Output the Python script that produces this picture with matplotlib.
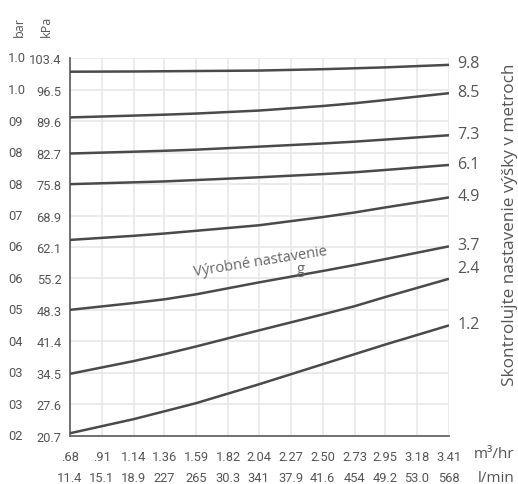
"""Pressure vs flow curves for the height settings."""
import matplotlib
matplotlib.use('Agg')
import matplotlib.pyplot as plt
import matplotlib.transforms as mtransforms

# x axis: flow
flow_m3hr = [0.68, 0.91, 1.14, 1.36, 1.59, 1.82, 2.04, 2.27, 2.50, 2.73, 2.95, 3.18, 3.41]
flow_m3hr_labels = ['.68', '.91', '1.14', '1.36', '1.59', '1.82', '2.04', '2.27',
                    '2.50', '2.73', '2.95', '3.18', '3.41']
flow_lmin_labels = ['11.4', '15.1', '18.9', '227', '265', '30.3', '341', '37.9',
                    '41.6', '454', '49.2', '53.0', '568']

# y axis: pressure
kpa_ticks = [103.4, 96.5, 89.6, 82.7, 75.8, 68.9, 62.1, 55.2, 48.3, 41.4, 34.5, 27.6, 20.7]
kpa_labels = ['103.4', '96.5', '89.6', '82.7', '75.8', '68.9', '62.1', '55.2',
              '48.3', '41.4', '34.5', '27.6', '20.7']
bar_labels = ['1.0', '1.0', '09', '08', '08', '07', '06', '06', '05', '04', '03', '03', '02']

# curves, read at these flows
curve_flow = [0.68, 1.14, 1.36, 1.59, 2.04, 2.50, 2.73, 2.95, 3.41]
curve_names = ['9.8', '8.5', '7.3', '6.1', '4.9', '3.7', '2.4', '1.2']
curve_kpa = [
    [100.4, 100.45, 100.5, 100.55, 100.65, 100.95, 101.15, 101.35, 101.9],
    [90.4, 90.8, 91.0, 91.25, 91.9, 92.9, 93.5, 94.2, 95.7],
    [82.5, 82.9, 83.1, 83.35, 84.0, 84.7, 85.1, 85.55, 86.5],
    [75.8, 76.2, 76.4, 76.7, 77.3, 78.0, 78.4, 78.9, 80.0],
    [63.6, 64.5, 65.0, 65.6, 66.8, 68.6, 69.6, 70.7, 72.9],
    [48.3, 49.8, 50.6, 51.7, 54.3, 56.8, 58.1, 59.4, 62.2],
    [34.3, 37.1, 38.6, 40.3, 43.8, 47.3, 49.1, 51.1, 55.1],
    [21.3, 24.4, 26.1, 27.9, 32.0, 36.4, 38.6, 40.7, 44.9],
]

txt = '#555555'
line_col = '#4a4a4a'
numfont = ['Roboto', 'DejaVu Sans']
opensans = ['Open Sans', 'DejaVu Sans']
numsize = 9.3

fig = plt.figure(figsize=(5.18, 4.85), dpi=100)
ax = fig.add_axes([70 / 518, 1 - 437 / 485, 379 / 518, 378 / 485])

for vals in curve_kpa:
    ax.plot(curve_flow, vals, color=line_col, linewidth=1.8, solid_capstyle='butt',
            solid_joinstyle='round', zorder=3)

ax.set_xlim(flow_m3hr[0], flow_m3hr[-1])
ax.set_ylim(kpa_ticks[-1], kpa_ticks[0])
ax.set_xticks(flow_m3hr)
ax.set_xticklabels(flow_m3hr_labels, fontfamily=numfont, fontsize=numsize, color=txt)
ax.set_yticks(kpa_ticks)
ax.set_yticklabels(kpa_labels, fontfamily=numfont, fontsize=numsize, color=txt)
ax.tick_params(axis='both', length=0)
ax.tick_params(axis='x', pad=10)
ax.tick_params(axis='y', pad=6)
ax.grid(True, color='#e6e6e6', linewidth=1.1, zorder=0)
ax.set_axisbelow(True)
for side in ['top', 'right']:
    ax.spines[side].set_visible(False)
for side in ['left', 'bottom']:
    ax.spines[side].set_color('#666666')
    ax.spines[side].set_linewidth(1.3)

# bar column on the left
trans_bar = mtransforms.blended_transform_factory(fig.transFigure, ax.transData)
for v, lab in zip(kpa_ticks, bar_labels):
    ax.text(8 / 518, v, lab, transform=trans_bar, ha='left', va='center',
            fontfamily=numfont, fontsize=numsize, color=txt, clip_on=False)

fig.text(19 / 518, 1 - 37 / 485, 'bar', rotation=90, ha='center', va='bottom',
         fontfamily=opensans, fontsize=9, color=txt)
fig.text(46 / 518, 1 - 37 / 485, 'kPa', rotation=90, ha='center', va='bottom',
         fontfamily=opensans, fontsize=9, color=txt)

# second row of x labels (l/min)
trans_row = mtransforms.blended_transform_factory(ax.transData, fig.transFigure)
for x, lab in zip(flow_m3hr, flow_lmin_labels):
    ax.text(x, 1 - 479 / 485, lab, transform=trans_row, ha='center', va='center',
            fontfamily=numfont, fontsize=numsize, color=txt, clip_on=False)

fig.text(474 / 518, 1 - 455 / 485, 'm³/hr', ha='left', va='center',
         fontfamily=opensans, fontsize=11, color=txt)
fig.text(478 / 518, 1 - 479 / 485, 'l/min', ha='left', va='center',
         fontfamily=opensans, fontsize=11, color=txt)

# curve labels at the right end
label_shift = {'2.4': 8}
for name, vals in zip(curve_names, curve_kpa):
    ax.annotate(name, xy=(curve_flow[-1], vals[-1]), xytext=(6, label_shift.get(name, 1)),
                textcoords='offset points', ha='left', va='center',
                fontfamily=opensans, fontsize=11.5, color=txt, annotation_clip=False)

fig.text(510 / 518, 1 - 225 / 485, 'Skontrolujte nastavenie výšky v metroch', rotation=90,
         ha='center', va='center', fontfamily=opensans, fontsize=12.3, color=txt)

ax.text(2.05, 58.9, 'Výrobné nastavenie', rotation=9, rotation_mode='anchor',
        ha='center', va='center', fontfamily=opensans, fontsize=10.5, color='#666666', zorder=4)
ax.text(2.34, 57.4, 'g', ha='center', va='center', fontfamily=opensans, fontsize=10.5,
        color='#666666', zorder=4)

plt.savefig('out.png', dpi=100)
